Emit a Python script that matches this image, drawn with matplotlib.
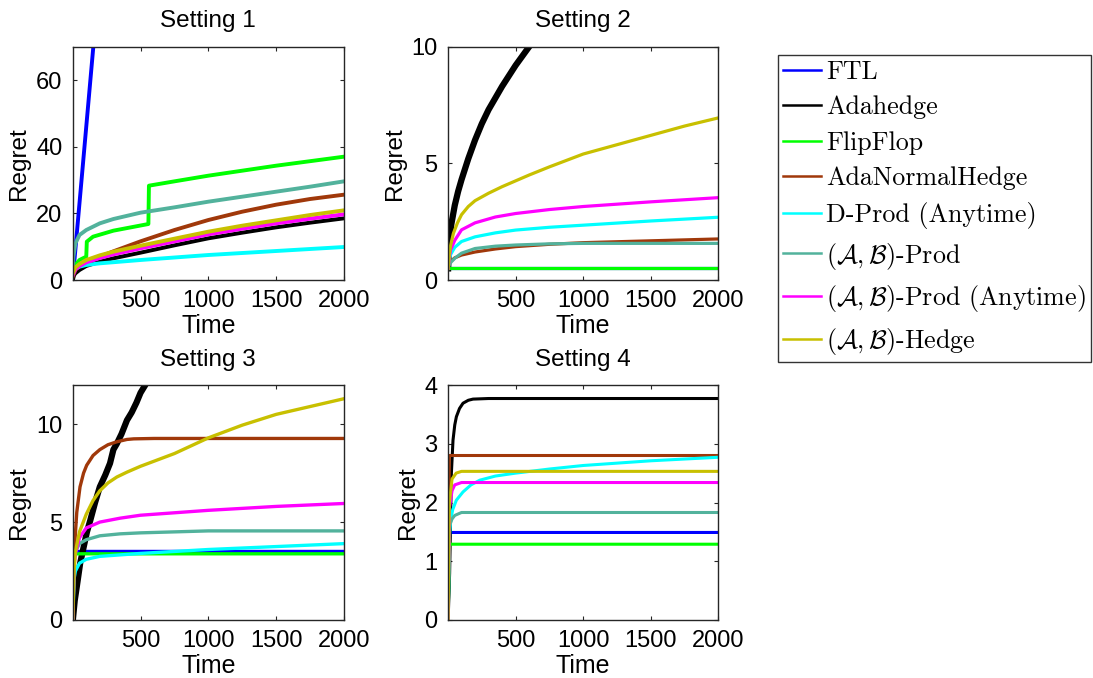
import numpy as np
import matplotlib
matplotlib.use('Agg')
import matplotlib.pyplot as plt

plt.rcParams['font.family'] = ['Liberation Sans', 'DejaVu Sans']
plt.rcParams['mathtext.fontset'] = 'cm'

labels = ['FTL', 'Adahedge', 'FlipFlop', 'AdaNormalHedge', 'D-Prod (Anytime)',
          r'$(\mathcal{A},\mathcal{B})$-Prod',
          r'$(\mathcal{A},\mathcal{B})$-Prod (Anytime)',
          r'$(\mathcal{A},\mathcal{B})$-Hedge']
colors = ['#0000ff', '#000000', '#00ff00', '#a0380a', '#00ffff',
          '#52b29c', '#ff00ff', '#c8c000']

# ---- Setting 1 (time points, regret values) ----
s1_ftl_t = [1, 2000]
s1_ftl = [0.5, 920]
s1_ada_t = [1, 10, 20, 50, 100, 200, 300, 500, 750, 1000, 1250, 1500, 1750, 2000]
s1_ada = [0.0, 1.4, 2.0, 3.0, 4.2, 5.5, 6.5, 8.2, 10.4, 12.5, 14.2, 15.8, 17.2, 18.5]
s1_ff_t = [1, 20, 50, 100, 104, 150, 300, 558, 562, 750, 1000, 1500, 2000]
s1_ff = [2.0, 4.5, 6.0, 7.0, 11.5, 13.0, 14.8, 16.8, 28.3, 29.6, 31.3, 34.3, 37.0]
s1_anh_t = [1, 20, 50, 100, 200, 300, 500, 750, 1000, 1250, 1500, 1750, 2000]
s1_anh = [1.0, 3.0, 4.2, 5.2, 7.0, 8.6, 11.6, 15.0, 18.0, 20.5, 22.6, 24.3, 25.6]
s1_dprod_t = [1, 10, 20, 50, 100, 200, 500, 1000, 1500, 2000]
s1_dprod = [2.0, 3.0, 3.4, 4.0, 4.5, 5.0, 6.0, 7.5, 8.7, 9.9]
s1_abprod_t = [1, 5, 20, 50, 100, 200, 300, 500, 750, 1000, 1250, 1500, 1750, 2000]
s1_abprod = [3.0, 7.0, 11.0, 13.5, 15.0, 17.0, 18.3, 20.2, 21.8, 23.5, 25.0, 26.5, 28.0, 29.6]
s1_abany_t = [1, 20, 50, 100, 200, 300, 500, 750, 1000, 1250, 1500, 1750, 2000]
s1_abany = [1.5, 3.2, 4.2, 5.3, 6.6, 7.7, 9.5, 11.6, 13.7, 15.4, 17.0, 18.4, 19.7]
s1_hedge_t = [1, 20, 50, 100, 200, 300, 500, 750, 1000, 1250, 1500, 1750, 2000]
s1_hedge = [2.0, 3.8, 4.8, 6.0, 7.4, 8.5, 10.3, 12.4, 14.5, 16.3, 17.9, 19.5, 20.9]

# ---- Setting 2 ----
s2_ftl_t = [1, 2000]
s2_ftl = [0.5, 0.5]
s2_ada_t = [1, 5, 10, 25, 50, 75, 100, 150, 200, 250, 300, 400, 500, 600, 700]
s2_ada = [0.5, 1.2, 1.7, 2.4, 3.2, 3.8, 4.3, 5.2, 6.0, 6.7, 7.3, 8.3, 9.2, 10.0, 10.75]
s2_ff_t = [1, 2000]
s2_ff = [0.5, 0.5]
s2_anh_t = [1, 10, 20, 50, 100, 200, 350, 500, 750, 1000, 1500, 2000]
s2_anh = [0.5, 0.7, 0.8, 0.95, 1.07, 1.2, 1.33, 1.43, 1.53, 1.6, 1.68, 1.76]
s2_dprod_t = [1, 10, 20, 50, 100, 200, 350, 500, 750, 1000, 1500, 2000]
s2_dprod = [0.5, 0.9, 1.1, 1.4, 1.65, 1.85, 2.02, 2.14, 2.26, 2.35, 2.53, 2.69]
s2_abprod_t = [1, 10, 20, 50, 100, 200, 350, 500, 750, 1000, 1500, 2000]
s2_abprod = [0.5, 0.65, 0.75, 0.93, 1.15, 1.35, 1.45, 1.5, 1.55, 1.57, 1.57, 1.57]
s2_abany_t = [1, 10, 20, 50, 100, 200, 350, 500, 750, 1000, 1500, 2000]
s2_abany = [0.5, 1.0, 1.3, 1.7, 2.15, 2.45, 2.7, 2.85, 3.02, 3.15, 3.35, 3.53]
s2_hedge_t = [1, 10, 20, 40, 70, 100, 150, 200, 300, 400, 500, 600, 750, 1000,
              1250, 1500, 1750, 2000]
s2_hedge = [0.5, 1.1, 1.5, 2.0, 2.45, 2.8, 3.15, 3.4, 3.72, 4.0, 4.25, 4.5, 4.85,
            5.4, 5.8, 6.2, 6.6, 6.95]

# ---- Setting 3 ----
s3_ftl_t = [1, 10, 2000]
s3_ftl = [0.0, 3.5, 3.5]
s3_ada_t = [1, 15, 30, 55, 80, 105, 130, 165, 200, 240, 275, 300, 325, 360, 400,
            435, 470, 500, 535, 600]
s3_ada = [0.0, 1.0, 1.7, 2.9, 3.7, 4.5, 5.1, 6.0, 6.8, 7.4, 8.0, 8.7, 9.0, 9.5, 10.2,
          10.6, 11.1, 11.6, 12.0, 12.9]
s3_ff_t = [1, 10, 2000]
s3_ff = [0.0, 3.38, 3.38]
s3_anh_t = [1, 8, 17, 30, 54, 80, 103, 150, 200, 260, 325, 400, 450, 600, 2000]
s3_anh = [0.0, 2.5, 4.1, 5.5, 6.8, 7.5, 7.9, 8.4, 8.7, 8.95, 9.1, 9.22, 9.25, 9.27, 9.27]
s3_dprod_t = [1, 10, 20, 50, 100, 200, 500, 1000, 1500, 2000]
s3_dprod = [0.0, 2.1, 2.5, 2.9, 3.1, 3.25, 3.4, 3.6, 3.75, 3.9]
s3_abprod_t = [1, 10, 20, 50, 100, 200, 350, 500, 1000, 2000]
s3_abprod = [0.0, 3.1, 3.5, 3.9, 4.1, 4.3, 4.4, 4.45, 4.55, 4.55]
s3_abany_t = [1, 10, 20, 50, 100, 200, 350, 500, 1000, 1500, 2000]
s3_abany = [0.0, 2.8, 3.4, 4.2, 4.7, 5.0, 5.2, 5.35, 5.6, 5.8, 5.95]
s3_hedge_t = [1, 10, 20, 50, 100, 150, 200, 260, 325, 400, 500, 750, 1000, 1250,
              1500, 1750, 2000]
s3_hedge = [0.0, 2.5, 3.5, 4.5, 5.4, 6.1, 6.6, 7.0, 7.3, 7.55, 7.85, 8.5, 9.3, 9.95,
            10.5, 10.9, 11.3]

# ---- Setting 4 ----
s4_ftl_t = [1, 12, 2000]
s4_ftl = [0.0, 1.49, 1.49]
s4_ada_t = [1, 12, 25, 37, 50, 62, 85, 111, 150, 185, 300, 2000]
s4_ada = [0.0, 0.8, 2.5, 3.06, 3.32, 3.46, 3.6, 3.69, 3.74, 3.76, 3.77, 3.77]
s4_ff_t = [1, 12, 2000]
s4_ff = [0.0, 1.29, 1.29]
s4_anh_t = [1, 10, 2000]
s4_anh = [0.0, 2.8, 2.8]
s4_dprod_t = [1, 10, 20, 35, 62, 111, 170, 235, 350, 500, 750, 1000, 1500, 2000]
s4_dprod = [0.0, 1.4, 1.7, 1.88, 2.04, 2.18, 2.3, 2.38, 2.45, 2.5, 2.57, 2.63, 2.71, 2.77]
s4_abprod_t = [1, 10, 30, 50, 100, 2000]
s4_abprod = [0.0, 1.6, 1.72, 1.78, 1.83, 1.83]
s4_abany_t = [1, 10, 30, 50, 100, 2000]
s4_abany = [0.0, 1.9, 2.2, 2.3, 2.34, 2.34]
s4_hedge_t = [1, 10, 30, 60, 100, 2000]
s4_hedge = [0.0, 2.0, 2.4, 2.5, 2.53, 2.53]

settings = [
    ('Setting 1', 70, [0, 20, 40, 60],
     [(s1_ftl_t, s1_ftl), (s1_ada_t, s1_ada), (s1_ff_t, s1_ff), (s1_anh_t, s1_anh),
      (s1_dprod_t, s1_dprod), (s1_abprod_t, s1_abprod), (s1_abany_t, s1_abany),
      (s1_hedge_t, s1_hedge)]),
    ('Setting 2', 10, [0, 5, 10],
     [(s2_ftl_t, s2_ftl), (s2_ada_t, s2_ada), (s2_ff_t, s2_ff), (s2_anh_t, s2_anh),
      (s2_dprod_t, s2_dprod), (s2_abprod_t, s2_abprod), (s2_abany_t, s2_abany),
      (s2_hedge_t, s2_hedge)]),
    ('Setting 3', 12, [0, 5, 10],
     [(s3_ftl_t, s3_ftl), (s3_ada_t, s3_ada), (s3_ff_t, s3_ff), (s3_anh_t, s3_anh),
      (s3_dprod_t, s3_dprod), (s3_abprod_t, s3_abprod), (s3_abany_t, s3_abany),
      (s3_hedge_t, s3_hedge)]),
    ('Setting 4', 4, [0, 1, 2, 3, 4],
     [(s4_ftl_t, s4_ftl), (s4_ada_t, s4_ada), (s4_ff_t, s4_ff), (s4_anh_t, s4_anh),
      (s4_dprod_t, s4_dprod), (s4_abprod_t, s4_abprod), (s4_abany_t, s4_abany),
      (s4_hedge_t, s4_hedge)]),
]

W, H = 1093, 678
# axes boxes in pixels: left, top, right, bottom
boxes = [(72.7, 46.7, 344, 280), (448, 46.7, 718.5, 280),
         (72.7, 385, 344, 620), (448, 385, 718.5, 620)]
# line widths per panel (the noisy curves look thicker in the original)
panel_lw = [2.8, 2.3, 2.4, 2.2]

fig = plt.figure(figsize=(W / 100, H / 100), dpi=100)
handles = []
for k, ((title, ymax, yticks, series), (l, t, r, b)) in enumerate(zip(settings, boxes)):
    ax = fig.add_axes([l / W, 1 - b / H, (r - l) / W, (b - t) / H])
    for i, (tt, vv) in enumerate(series):
        lw = panel_lw[k]
        if i == 1 and k in (1, 2):
            lw = 4.5  # Adahedge band is wide in settings 2 and 3
        line, = ax.plot(tt, vv, color=colors[i], lw=lw, solid_joinstyle='round')
        if k == 0:
            handles.append(line)
    ax.set_xlim(0, 2000)
    ax.set_ylim(0, ymax)
    ax.set_xticks([500, 1000, 1500, 2000])
    ax.set_yticks(yticks)
    ax.tick_params(direction='in', length=3, width=0.8, top=True, right=True,
                   labelsize=17, pad=7.5, color='#262626')
    for sp in ax.spines.values():
        sp.set_color('#262626')
        sp.set_linewidth(1.0)
    ax.set_title(title, fontsize=17.5, pad=14)
    ax.set_xlabel('Time', fontsize=18, labelpad=1)
    ax.set_ylabel('Regret', fontsize=17.5, labelpad=4)

leg = fig.legend(handles, labels, loc='upper left',
                 bbox_to_anchor=(778 / W, 1 - 55 / H), borderaxespad=0,
                 prop={'family': 'cmr10', 'size': 18.7}, frameon=True,
                 fancybox=False, edgecolor='black', handlelength=1.45,
                 handletextpad=0.2, labelspacing=0.45, borderpad=0.2)
leg.get_frame().set_linewidth(1.0)
for lh in leg.get_lines():
    lh.set_linewidth(1.8)

fig.savefig('out.png', dpi=100)
